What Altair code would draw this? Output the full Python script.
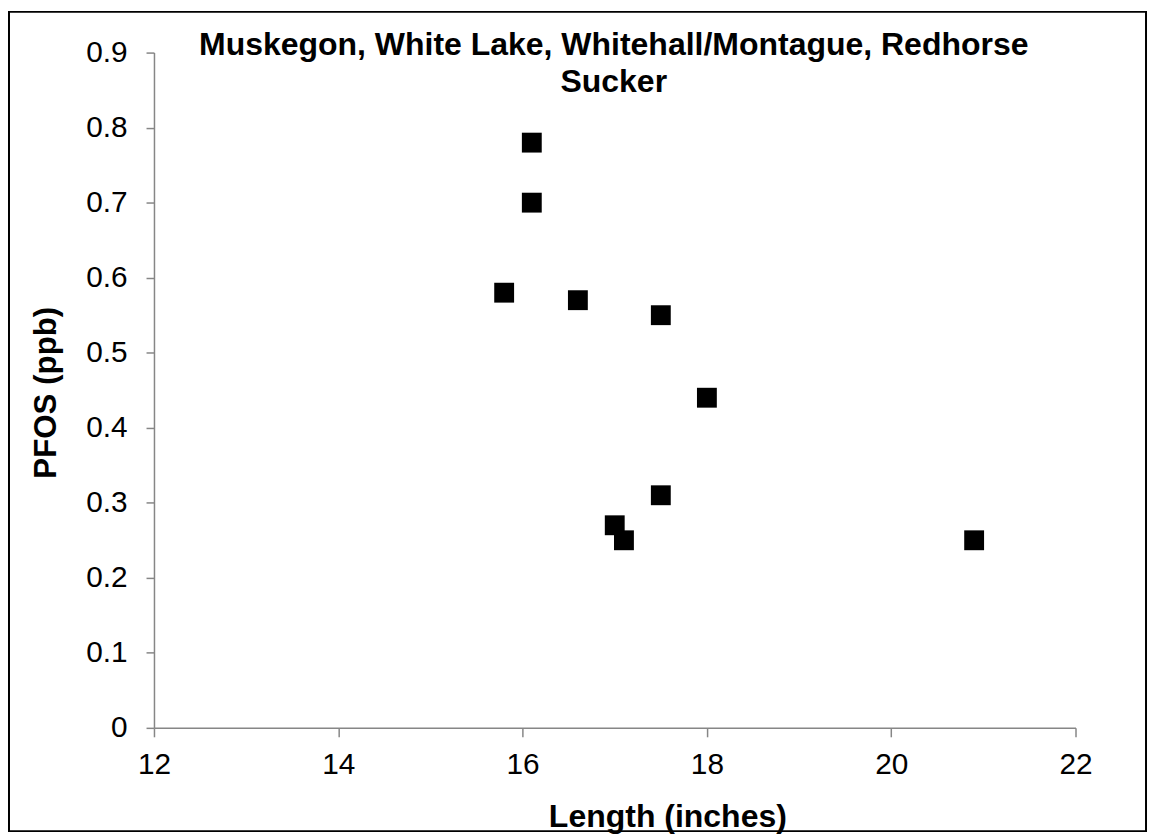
import altair as alt
import pandas as pd

length_in = [16.1, 16.1, 15.8, 16.6, 17.5, 18.0, 17.5, 17.0, 17.1, 20.9]
pfos_ppb = [0.78, 0.70, 0.58, 0.57, 0.55, 0.44, 0.31, 0.27, 0.25, 0.25]
x_ticks = [12, 14, 16, 18, 20, 22]
y_ticks = [0, 0.1, 0.2, 0.3, 0.4, 0.5, 0.6, 0.7, 0.8, 0.9]
title_lines = ["Muskegon, White Lake, Whitehall/Montague, Redhorse", "Sucker"]

df = pd.DataFrame({"length": length_in, "pfos": pfos_ppb})

FONT = "Liberation Sans"
W, H = 928, 680

points = alt.Chart(df).mark_point(
    shape="square", filled=True, size=400, color="black", opacity=1
).encode(
    x=alt.X("length:Q",
            scale=alt.Scale(domain=[12, 22], nice=False, zero=False),
            axis=alt.Axis(values=x_ticks, title="Length (inches)", grid=False,
                          labelFontSize=30, labelFont=FONT, labelColor="black",
                          labelFlush=False, labelOverlap=False,
                          labelPadding=13, tickSize=9, tickColor="#868686",
                          domainColor="#868686", domainWidth=1.5, tickWidth=1.5,
                          titleFont=FONT, titleFontSize=32.2, titleFontWeight="bold",
                          titleColor="black", titleX=517, titleY=99,
                          titleBaseline="alphabetic", titleAlign="center")),
    y=alt.Y("pfos:Q",
            scale=alt.Scale(domain=[0, 0.9], nice=False),
            axis=alt.Axis(values=y_ticks, title="PFOS (ppb)", grid=False,
                          labelFontSize=30, labelFont=FONT, labelColor="black",
                          labelFlush=False, labelOverlap=False,
                          labelPadding=19, tickSize=8, tickColor="#868686",
                          domainColor="#868686", domainWidth=1.5, tickWidth=1.5,
                          labelExpr="datum.value == 0 ? '0' : format(datum.value, '.1f')",
                          titleFont=FONT, titleFontSize=31.5, titleFontWeight="bold",
                          titleColor="black", titleX=-108, titleY=342,
                          titleAngle=-90, titleBaseline="middle", titleAlign="center")),
)

frame = alt.Chart(alt.Data(values=[{"a": 1}])).mark_rect(
    fill="transparent", stroke="black", strokeWidth=2, clip=False
).encode(
    x=alt.value(-146), x2=alt.value(999), y=alt.value(-41), y2=alt.value(784)
)

chart = alt.layer(frame, points).properties(
    width=W, height=H,
    background="white",
    title=alt.TitleParams(text=title_lines, font=FONT, fontSize=32.2, fontWeight="bold",
                          color="black", anchor="middle", frame="group",
                          lineHeight=37.7, baseline="top", offset=0, dx=-1, dy=89),
    autosize=alt.AutoSizeParams(type="none"),
    padding={"left": 147, "top": 42, "right": 73, "bottom": 106},
).configure_view(stroke=None)

chart.save("out.html", embed_options={"renderer": "svg", "actions": False})
